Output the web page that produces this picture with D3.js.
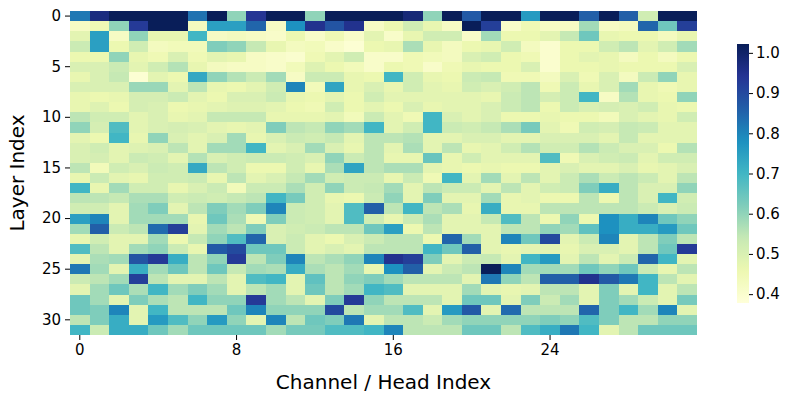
<!DOCTYPE html>
<html>
<head>
<meta charset="utf-8">
<script src="https://cdn.jsdelivr.net/npm/d3@7"></script>
<style>
  html, body { margin: 0; padding: 0; background: #fff; }
  svg { display: block; font-family: "DejaVu Sans", sans-serif; }
</style>
</head>
<body>
<svg id="chart" width="793" height="401"></svg>
<script>
// Layer (row) and channel/head (column) indices
const layers = [0,1,2,3,4,5,6,7,8,9,10,11,12,13,14,15,16,17,18,19,20,21,22,23,24,25,26,27,28,29,30,31];
const channels = [0,1,2,3,4,5,6,7,8,9,10,11,12,13,14,15,16,17,18,19,20,21,22,23,24,25,26,27,28,29,30,31];
const xTickLabels = [0, 8, 16, 24];
const yTickLabels = [0, 5, 10, 15, 20, 25, 30];
const colorTicks = [0.4, 0.5, 0.6, 0.7, 0.8, 0.9, 1.0];
const colorLimits = [0.378, 1.022];
const paletteYlGnBu = ['#ffffd9','#edf8b1','#c7e9b4','#7fcdbb','#41b6c4','#1d91c0','#225ea8','#253494','#081d58'];

// values[layer][channel]
const values = [
 [0.82,0.97,1.02,1.02,1.02,1.02,0.83,1.02,0.60,0.94,1.02,1.02,0.60,1.02,1.02,1.02,1.02,0.98,0.60,1.02,0.87,1.02,1.02,0.76,1.02,1.02,0.86,1.02,0.86,0.52,1.02,1.02],
 [0.42,0.45,0.60,0.93,1.02,1.02,0.43,0.75,0.75,0.85,0.42,0.78,0.95,0.88,0.95,0.42,0.46,0.52,0.47,0.42,1.02,0.92,0.41,0.45,0.42,0.42,0.58,0.42,0.43,0.85,0.64,0.92],
 [0.48,0.75,0.42,0.60,0.47,0.47,0.70,0.42,0.43,0.42,0.41,0.46,0.41,0.45,0.41,0.48,0.41,0.47,0.52,0.52,0.41,0.58,0.46,0.46,0.48,0.54,0.64,0.47,0.46,0.46,0.43,0.47],
 [0.53,0.75,0.46,0.52,0.43,0.44,0.44,0.62,0.60,0.54,0.47,0.43,0.44,0.41,0.39,0.46,0.47,0.57,0.47,0.43,0.46,0.47,0.52,0.43,0.40,0.46,0.46,0.52,0.55,0.48,0.52,0.58],
 [0.46,0.46,0.60,0.47,0.45,0.50,0.45,0.48,0.47,0.42,0.41,0.40,0.45,0.48,0.52,0.41,0.41,0.45,0.44,0.43,0.50,0.52,0.46,0.45,0.40,0.46,0.48,0.47,0.43,0.46,0.43,0.46],
 [0.50,0.50,0.53,0.48,0.52,0.56,0.47,0.43,0.42,0.42,0.41,0.44,0.49,0.46,0.44,0.41,0.46,0.45,0.41,0.45,0.47,0.46,0.46,0.50,0.40,0.46,0.46,0.47,0.46,0.46,0.46,0.50],
 [0.47,0.50,0.54,0.39,0.48,0.46,0.73,0.60,0.56,0.53,0.58,0.42,0.53,0.53,0.47,0.46,0.70,0.52,0.47,0.46,0.53,0.54,0.45,0.45,0.43,0.50,0.45,0.50,0.43,0.53,0.60,0.47],
 [0.50,0.50,0.50,0.59,0.59,0.48,0.55,0.47,0.46,0.48,0.52,0.80,0.44,0.74,0.47,0.50,0.47,0.52,0.48,0.47,0.52,0.50,0.52,0.55,0.45,0.53,0.47,0.50,0.58,0.47,0.45,0.47],
 [0.47,0.46,0.47,0.51,0.51,0.53,0.48,0.46,0.50,0.50,0.53,0.47,0.46,0.48,0.46,0.52,0.48,0.48,0.48,0.48,0.48,0.47,0.53,0.55,0.51,0.53,0.70,0.42,0.56,0.47,0.46,0.60],
 [0.47,0.49,0.46,0.51,0.50,0.46,0.47,0.48,0.49,0.49,0.48,0.46,0.45,0.52,0.46,0.48,0.46,0.50,0.47,0.48,0.48,0.50,0.53,0.55,0.46,0.53,0.50,0.51,0.50,0.52,0.47,0.46],
 [0.55,0.52,0.52,0.48,0.50,0.47,0.48,0.54,0.54,0.54,0.47,0.47,0.47,0.48,0.44,0.53,0.48,0.45,0.70,0.50,0.48,0.50,0.46,0.46,0.47,0.46,0.46,0.44,0.50,0.48,0.47,0.52],
 [0.60,0.51,0.68,0.48,0.50,0.51,0.50,0.48,0.47,0.48,0.62,0.55,0.54,0.60,0.58,0.70,0.48,0.52,0.70,0.53,0.52,0.54,0.57,0.63,0.48,0.45,0.52,0.51,0.54,0.53,0.48,0.48],
 [0.48,0.46,0.70,0.47,0.60,0.50,0.48,0.50,0.58,0.47,0.50,0.53,0.52,0.54,0.48,0.55,0.55,0.56,0.48,0.48,0.50,0.50,0.48,0.48,0.50,0.50,0.50,0.48,0.54,0.48,0.48,0.48],
 [0.50,0.52,0.48,0.49,0.50,0.55,0.48,0.58,0.58,0.70,0.48,0.50,0.58,0.50,0.47,0.55,0.48,0.57,0.48,0.55,0.47,0.48,0.52,0.56,0.52,0.52,0.56,0.53,0.50,0.50,0.46,0.56],
 [0.50,0.51,0.48,0.53,0.52,0.48,0.56,0.50,0.52,0.53,0.53,0.52,0.50,0.60,0.53,0.55,0.47,0.47,0.65,0.47,0.52,0.48,0.48,0.48,0.68,0.45,0.50,0.52,0.53,0.48,0.52,0.52],
 [0.55,0.44,0.52,0.50,0.53,0.52,0.73,0.55,0.52,0.46,0.46,0.52,0.47,0.57,0.74,0.55,0.57,0.57,0.48,0.47,0.46,0.47,0.46,0.46,0.48,0.50,0.48,0.48,0.50,0.47,0.48,0.50],
 [0.47,0.53,0.48,0.47,0.52,0.52,0.53,0.47,0.55,0.48,0.50,0.54,0.58,0.52,0.53,0.53,0.47,0.53,0.45,0.70,0.48,0.58,0.48,0.55,0.48,0.53,0.57,0.53,0.55,0.53,0.48,0.55],
 [0.70,0.47,0.58,0.52,0.52,0.47,0.50,0.53,0.44,0.53,0.53,0.57,0.52,0.60,0.53,0.54,0.58,0.48,0.55,0.53,0.53,0.48,0.55,0.48,0.52,0.53,0.62,0.72,0.55,0.50,0.50,0.60],
 [0.55,0.55,0.54,0.57,0.57,0.52,0.53,0.52,0.54,0.55,0.70,0.63,0.52,0.47,0.46,0.53,0.60,0.48,0.62,0.48,0.48,0.58,0.47,0.48,0.46,0.46,0.55,0.46,0.55,0.50,0.70,0.52],
 [0.52,0.52,0.48,0.58,0.62,0.48,0.55,0.62,0.58,0.62,0.80,0.53,0.52,0.48,0.68,0.86,0.55,0.70,0.55,0.57,0.47,0.72,0.47,0.47,0.55,0.55,0.55,0.55,0.55,0.53,0.50,0.53],
 [0.75,0.80,0.48,0.58,0.58,0.58,0.47,0.64,0.57,0.45,0.62,0.53,0.52,0.48,0.68,0.52,0.47,0.53,0.57,0.48,0.48,0.54,0.68,0.55,0.46,0.60,0.46,0.78,0.72,0.80,0.64,0.60],
 [0.58,0.86,0.53,0.55,0.84,0.92,0.48,0.58,0.55,0.62,0.50,0.52,0.53,0.55,0.55,0.64,0.75,0.46,0.55,0.48,0.48,0.48,0.55,0.55,0.60,0.58,0.66,0.78,0.72,0.72,0.76,0.64],
 [0.47,0.52,0.48,0.48,0.58,0.46,0.54,0.60,0.68,0.85,0.50,0.53,0.48,0.46,0.50,0.53,0.55,0.55,0.46,0.85,0.58,0.48,0.80,0.64,0.90,0.48,0.53,0.80,0.48,0.55,0.62,0.55],
 [0.68,0.55,0.48,0.58,0.60,0.53,0.47,0.87,0.90,0.64,0.64,0.53,0.48,0.50,0.48,0.55,0.55,0.55,0.70,0.64,0.86,0.48,0.47,0.48,0.48,0.47,0.50,0.50,0.48,0.55,0.64,0.93],
 [0.48,0.57,0.58,0.88,0.93,0.72,0.55,0.60,0.93,0.55,0.62,0.80,0.55,0.57,0.60,0.80,0.95,0.92,0.62,0.48,0.53,0.54,0.48,0.70,0.76,0.48,0.55,0.48,0.53,0.85,0.70,0.48],
 [0.82,0.58,0.48,0.72,0.58,0.64,0.55,0.64,0.54,0.58,0.57,0.72,0.57,0.55,0.58,0.47,0.78,0.86,0.48,0.53,0.55,1.02,0.80,0.58,0.58,0.58,0.64,0.60,0.64,0.53,0.47,0.55],
 [0.53,0.55,0.58,0.92,0.55,0.48,0.48,0.55,0.48,0.68,0.70,0.48,0.66,0.55,0.60,0.62,0.58,0.55,0.55,0.55,0.48,0.82,0.60,0.55,0.86,0.86,0.95,0.87,0.82,0.70,0.55,0.48],
 [0.48,0.58,0.64,0.57,0.70,0.58,0.62,0.58,0.48,0.55,0.58,0.48,0.64,0.55,0.58,0.70,0.68,0.48,0.48,0.48,0.58,0.48,0.47,0.48,0.55,0.55,0.48,0.62,0.48,0.70,0.48,0.55],
 [0.64,0.58,0.48,0.62,0.57,0.55,0.70,0.60,0.60,0.93,0.58,0.55,0.48,0.62,0.93,0.60,0.55,0.55,0.55,0.48,0.64,0.64,0.48,0.62,0.53,0.58,0.48,0.62,0.58,0.53,0.48,0.63],
 [0.64,0.62,0.80,0.48,0.70,0.55,0.55,0.55,0.64,0.80,0.60,0.60,0.60,0.90,0.55,0.58,0.58,0.68,0.48,0.76,0.87,0.48,0.84,0.55,0.55,0.55,0.85,0.62,0.70,0.58,0.80,0.48],
 [0.55,0.62,0.72,0.48,0.76,0.68,0.60,0.76,0.60,0.48,0.80,0.55,0.64,0.62,0.82,0.48,0.55,0.55,0.53,0.58,0.60,0.60,0.60,0.60,0.62,0.60,0.68,0.62,0.55,0.55,0.60,0.60],
 [0.70,0.53,0.72,0.72,0.64,0.58,0.64,0.64,0.64,0.64,0.58,0.63,0.63,0.68,0.68,0.70,0.80,0.55,0.55,0.55,0.64,0.64,0.55,0.68,0.72,0.82,0.70,0.48,0.55,0.64,0.64,0.64]
];

const svg = d3.select('#chart');
const plot = { left: 70, top: 11, right: 697, bottom: 335 };

const x = d3.scaleBand().domain(channels).range([plot.left, plot.right]).padding(0);
const y = d3.scaleBand().domain(layers).range([plot.top, plot.bottom]).padding(0);

const stops = d3.range(paletteYlGnBu.length).map(i => colorLimits[0] + (colorLimits[1] - colorLimits[0]) * i / (paletteYlGnBu.length - 1));
const color = d3.scaleLinear().domain(stops).range(paletteYlGnBu).interpolate(d3.interpolateRgb).clamp(true);

const cells = [];
layers.forEach((l, i) => channels.forEach((c, j) => cells.push({ l, c, v: values[i][j] })));

svg.append('g').selectAll('rect').data(cells).join('rect')
  .attr('x', d => x(d.c))
  .attr('y', d => y(d.l))
  .attr('width', x.bandwidth() + 0.4)
  .attr('height', y.bandwidth() + 0.4)
  .attr('fill', d => color(d.v))
  .attr('shape-rendering', 'crispEdges');

const tickFont = 15;

// X axis
const xAxis = d3.axisBottom(x).tickValues(xTickLabels).tickSize(5).tickPadding(4);
const gx = svg.append('g').attr('transform', `translate(0,${plot.bottom})`).call(xAxis);
gx.select('.domain').remove();
gx.selectAll('text').attr('font-size', tickFont).attr('font-family', 'DejaVu Sans').attr('fill', '#000');
gx.selectAll('line').attr('stroke', '#000').attr('stroke-width', 1);

// Y axis
const yAxis = d3.axisLeft(y).tickValues(yTickLabels).tickSize(5).tickPadding(4);
const gy = svg.append('g').attr('transform', `translate(${plot.left},0)`).call(yAxis);
gy.select('.domain').remove();
gy.selectAll('text').attr('font-size', tickFont).attr('font-family', 'DejaVu Sans').attr('fill', '#000');
gy.selectAll('line').attr('stroke', '#000').attr('stroke-width', 1);

// Axis titles
svg.append('text')
  .attr('x', (plot.left + plot.right) / 2).attr('y', 389)
  .attr('text-anchor', 'middle').attr('font-size', 20).attr('fill', '#000')
  .text('Channel / Head Index');
svg.append('text')
  .attr('transform', `translate(24,${(plot.top + plot.bottom) / 2}) rotate(-90)`)
  .attr('text-anchor', 'middle').attr('font-size', 20).attr('fill', '#000')
  .text('Layer Index');

// Colorbar
const cb = { x: 737, w: 12, top: 44, bottom: 303 };
const defs = svg.append('defs');
const grad = defs.append('linearGradient').attr('id', 'cbgrad')
  .attr('x1', 0).attr('y1', 1).attr('x2', 0).attr('y2', 0);
d3.range(0, 1.0001, 0.02).forEach(t => {
  grad.append('stop').attr('offset', t)
    .attr('stop-color', color(colorLimits[0] + t * (colorLimits[1] - colorLimits[0])));
});
svg.append('rect').attr('x', cb.x).attr('y', cb.top).attr('width', cb.w).attr('height', cb.bottom - cb.top)
  .attr('fill', 'url(#cbgrad)');
const cScale = d3.scaleLinear().domain(colorLimits).range([cb.bottom, cb.top]);
const cAxis = d3.axisRight(cScale).tickValues(colorTicks).tickFormat(d3.format('.1f')).tickSize(4).tickPadding(3);
const gc = svg.append('g').attr('transform', `translate(${cb.x + cb.w},0)`).call(cAxis);
gc.select('.domain').remove();
gc.selectAll('text').attr('font-size', tickFont).attr('font-family', 'DejaVu Sans').attr('fill', '#000');
gc.selectAll('line').attr('stroke', '#000');
</script>
</body>
</html>
